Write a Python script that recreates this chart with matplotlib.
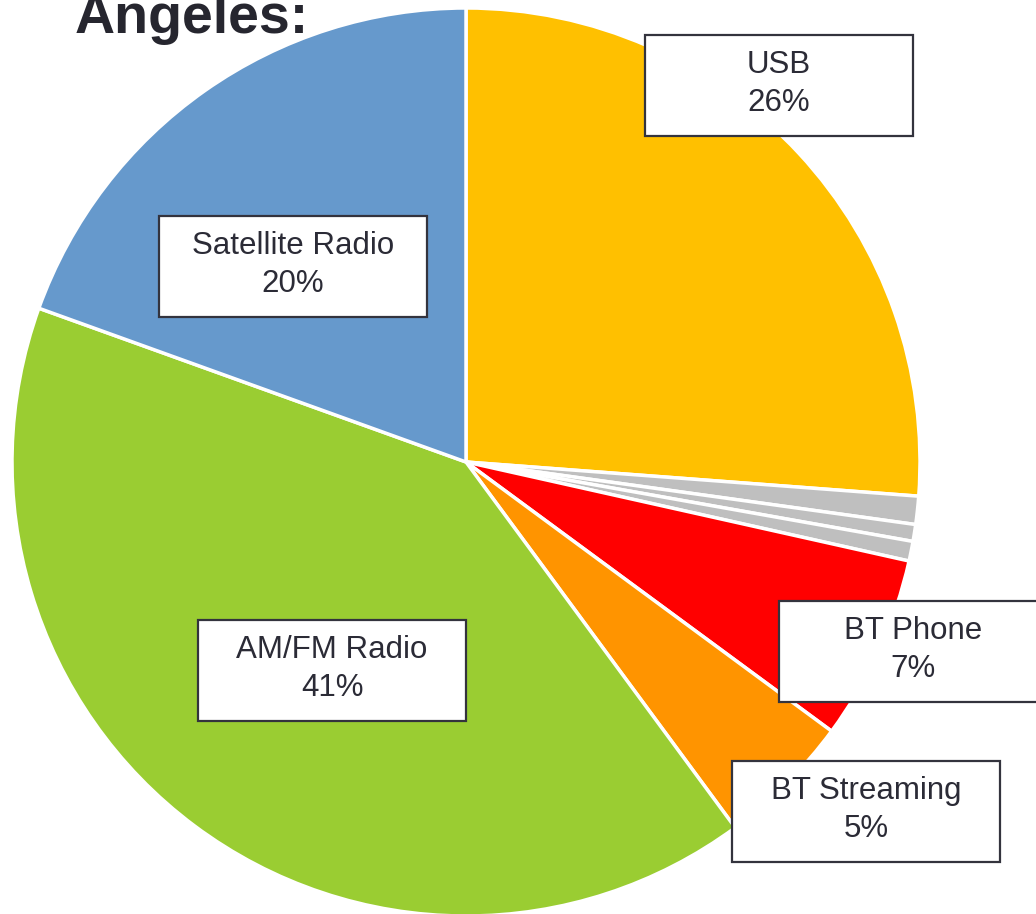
import matplotlib
matplotlib.use('Agg')
import matplotlib.pyplot as plt
from matplotlib.patches import Rectangle

# slice data, clockwise from 12 o'clock
names = ['USB', '', '', '', 'BT Phone', 'BT Streaming', 'AM/FM Radio', 'Satellite Radio']
shares = [26.2, 1.0, 0.6, 0.7, 6.6, 4.8, 40.6, 19.5]
colors = ['#FFC000', '#BFBFBF', '#BFBFBF', '#BFBFBF', '#FF0000', '#FF9400', '#9ACD32', '#6699CC']
pct_labels = ['26%', '', '', '', '7%', '5%', '41%', '20%']

# label box centres (pixels from top-left of the picture)
label_pos = {
    'USB': (779, 85),
    'Satellite Radio': (293, 266),
    'AM/FM Radio': (332, 670),
    'BT Phone': (913, 651),
    'BT Streaming': (866, 811),
}

W, H = 1036, 914
fig = plt.figure(figsize=(W / 100, H / 100), dpi=100)
ax = fig.add_axes([0, 0, 1, 1])

cx, cy, r = 466, H - 462, 454
ax.pie(shares, colors=colors, startangle=90, counterclock=False,
       center=(cx, cy), radius=r,
       wedgeprops=dict(edgecolor='white', linewidth=2.5))

ax.set_xlim(0, W)
ax.set_ylim(0, H)
ax.set_aspect('equal')
ax.axis('off')

bw, bh = 268, 101
txt_c = '#2b2b36'
for name, pct in zip(names, pct_labels):
    if not name:
        continue
    x, y = label_pos[name]
    y = H - y
    ax.add_patch(Rectangle((x - bw / 2, y - bh / 2), bw, bh, facecolor='white',
                           edgecolor='#33333d', linewidth=1.6, zorder=3, clip_on=False))
    ax.text(x, y + 1, '{}\n{}'.format(name, pct), ha='center', va='center',
            fontsize=22.5, family='Liberation Sans', color=txt_c,
            linespacing=1.38, zorder=4)

fig.text(75 / W, 1 - 33 / H, 'Angeles:', ha='left', va='baseline',
         fontsize=40, fontweight='bold', family='Liberation Sans', color='#26262f')

fig.savefig('out.png', dpi=100)
